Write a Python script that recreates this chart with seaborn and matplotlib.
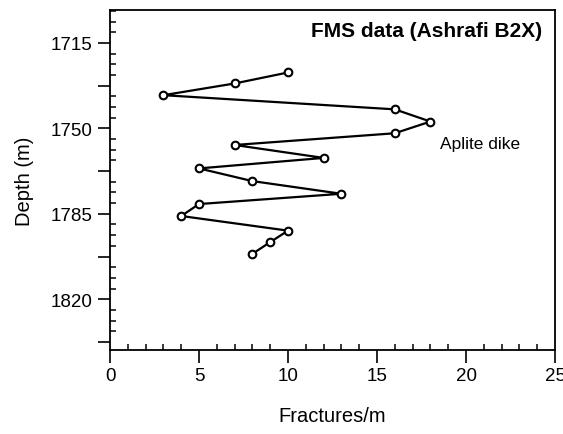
import matplotlib
matplotlib.use("Agg")
import matplotlib.pyplot as plt
import seaborn as sns
import pandas as pd
import numpy as np
from matplotlib.ticker import MultipleLocator, FixedLocator

sns.set_theme(style="ticks")
plt.rcParams['font.family'] = ['Liberation Sans', 'DejaVu Sans']

fractures = [10, 7, 3, 16, 18, 16, 7, 12, 5, 8, 13, 5, 4, 10, 9, 8]
depth = [1727.1, 1731.6, 1736.4, 1742.2, 1747.2, 1752.0, 1756.8, 1762.1,
         1766.4, 1771.6, 1776.8, 1781.0, 1785.9, 1791.9, 1796.6, 1801.4]
ytick_vals = [1715, 1750, 1785, 1820]
title_text = "FMS data (Ashrafi B2X)"
note_text = "Aplite dike"

df = pd.DataFrame({"Fractures/m": fractures, "Depth (m)": depth})

fig = plt.figure(figsize=(5.63, 4.35), dpi=100)
ax = fig.add_axes([0.1954, 0.192, 0.7904, 0.7827])

sns.lineplot(data=df, x="Fractures/m", y="Depth (m)", sort=False, ax=ax,
             estimator=None, errorbar=None,
             color="black", linewidth=1.6, marker="o", markersize=5.5,
             markerfacecolor="white", markeredgecolor="black", markeredgewidth=1.5)

ax.set_xlim(0, 25)
ax.set_ylim(1841, 1701.5)

ax.xaxis.set_major_locator(MultipleLocator(5))
ax.xaxis.set_minor_locator(MultipleLocator(1))
major_y = [1715 + 17.5 * i for i in range(0, 8)]
ax.yaxis.set_major_locator(FixedLocator(major_y))
ax.set_yticklabels([str(int(v)) if v in ytick_vals else "" for v in major_y])
ax.yaxis.set_minor_locator(FixedLocator([1715 + 4.375 * i for i in range(-3, 30)]))

ax.tick_params(axis="both", which="major", direction="out", length=9, width=1.2,
               labelsize=13.5, color="black", labelcolor="black")
ax.tick_params(axis="both", which="minor", direction="in", length=4, width=1.1, color="black")
ax.tick_params(axis="x", which="major", pad=3)

for s in ax.spines.values():
    s.set_linewidth(1.3)
    s.set_color("black")

ax.set_xlabel("Fractures/m", fontsize=14.5, labelpad=16, color="black")
ax.set_ylabel("Depth (m)", fontsize=14.5, labelpad=12, color="black")

ax.text(0.97, 0.94, title_text, transform=ax.transAxes, ha="right", va="center",
        fontsize=15, fontweight="bold", color="black")
ax.text(20.8, 1756, note_text, ha="center", va="center", fontsize=12.5, color="black")

fig.savefig("out.png", dpi=100)
